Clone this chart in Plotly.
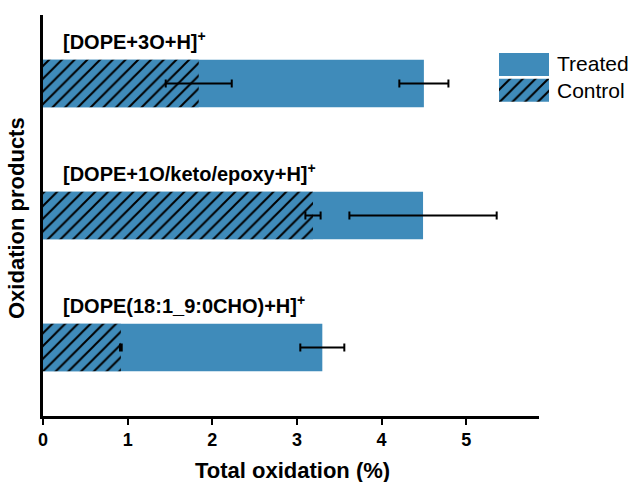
import plotly.graph_objects as go

# Data (bottom -> top)
categories = ["[DOPE(18:1_9:0CHO)+H]<sup>+</sup>",
              "[DOPE+1O/keto/epoxy+H]<sup>+</sup>",
              "[DOPE+3O+H]<sup>+</sup>"]
treated = [3.30, 4.49, 4.50]
treated_err = [0.26, 0.87, 0.29]
control = [0.92, 3.19, 1.84]
control_err = [0.01, 0.09, 0.39]
x_ticks = [0, 1, 2, 3, 4, 5]
series_names = ["Treated", "Control"]

BLUE = "#3F8BBA"
FONT = "Liberation Sans"
W, H = 634, 482
L, T, B = 43, 15, 66
PW = W - L           # plotting area width (right margin 0)
PH = H - T - B       # 401
main_w = 496

def px_x(p):
    return (p - L) / PW

def px_y(p):
    return (T + PH - p) / PH

HATCH = dict(shape="/", fgcolor="black", bgcolor=BLUE, size=9, solidity=0.22,
             fillmode="replace")

fig = go.Figure()

err_style = dict(type="data", visible=True, color="black", thickness=2, width=4)

fig.add_trace(go.Bar(
    y=categories, x=treated, orientation="h", name=series_names[0],
    marker=dict(color=BLUE, line=dict(width=0)), width=0.36,
    error_x=dict(array=treated_err, **err_style), showlegend=False,
))
fig.add_trace(go.Bar(
    y=categories, x=control, orientation="h", name=series_names[1],
    marker=dict(color=BLUE, line=dict(width=0), pattern=HATCH),
    width=0.36,
    error_x=dict(array=control_err, **err_style), showlegend=False,
))

# Legend keys on their own small axes
fig.add_trace(go.Bar(
    y=[1], x=[1], orientation="h", xaxis="x2", yaxis="y2",
    marker=dict(color=BLUE, line=dict(width=0)), width=0.9, showlegend=False,
    hoverinfo="skip",
))
fig.add_trace(go.Bar(
    y=[0], x=[1], orientation="h", xaxis="x2", yaxis="y2",
    marker=dict(color=BLUE, line=dict(width=0), pattern=HATCH),
    width=0.9, showlegend=False, hoverinfo="skip",
))

annotations = []
for c in categories:
    annotations.append(dict(
        x=0, y=c, xref="x", yref="y", text=c, showarrow=False,
        xanchor="left", yanchor="middle", xshift=18, yshift=43,
        font=dict(family=FONT, size=20, color="black", weight="bold"),
    ))

# legend texts
for name, yc in zip(series_names, [63.7, 91]):
    annotations.append(dict(
        x=px_x(555), y=px_y(yc), xref="paper", yref="paper", text=name,
        showarrow=False, xanchor="left", yanchor="middle",
        font=dict(family=FONT, size=21, color="black"),
    ))

# axis titles
annotations.append(dict(
    x=px_x(16), y=px_y(218), xref="paper", yref="paper",
    text="Oxidation products", showarrow=False, textangle=-90,
    xanchor="center", yanchor="middle",
    font=dict(family=FONT, size=22, color="black", weight="bold"),
))
annotations.append(dict(
    x=px_x(292), y=px_y(470), xref="paper", yref="paper",
    text="Total oxidation (%)", showarrow=False,
    xanchor="center", yanchor="middle",
    font=dict(family=FONT, size=22, color="black", weight="bold"),
))

fig.update_layout(
    width=W, height=H,
    margin=dict(l=L, r=0, t=T, b=B),
    paper_bgcolor="white", plot_bgcolor="white",
    barmode="overlay",
    xaxis=dict(domain=[0, main_w / PW], range=[0, 5.86],
               tickvals=x_ticks, ticktext=[str(v) for v in x_ticks],
               showline=True, linecolor="black", linewidth=2.5,
               ticks="outside", ticklen=6, tickwidth=2, tickcolor="black",
               showgrid=False, zeroline=False,
               tickfont=dict(family=FONT, size=18, color="black", weight="bold")),
    yaxis=dict(range=[-0.52, 2.52], type="category",
               categoryorder="array", categoryarray=categories,
               showline=True, linecolor="black", linewidth=2.5,
               showticklabels=False, ticks="", showgrid=False, zeroline=False),
    xaxis2=dict(domain=[px_x(499), px_x(549)], range=[0, 1], anchor="y2",
                visible=False, fixedrange=True),
    yaxis2=dict(domain=[px_y(103), px_y(51.7)], range=[-0.5, 1.5], anchor="x2",
                visible=False, fixedrange=True),
    annotations=annotations,
    font=dict(family=FONT),
)

fig.write_html("out.html")
